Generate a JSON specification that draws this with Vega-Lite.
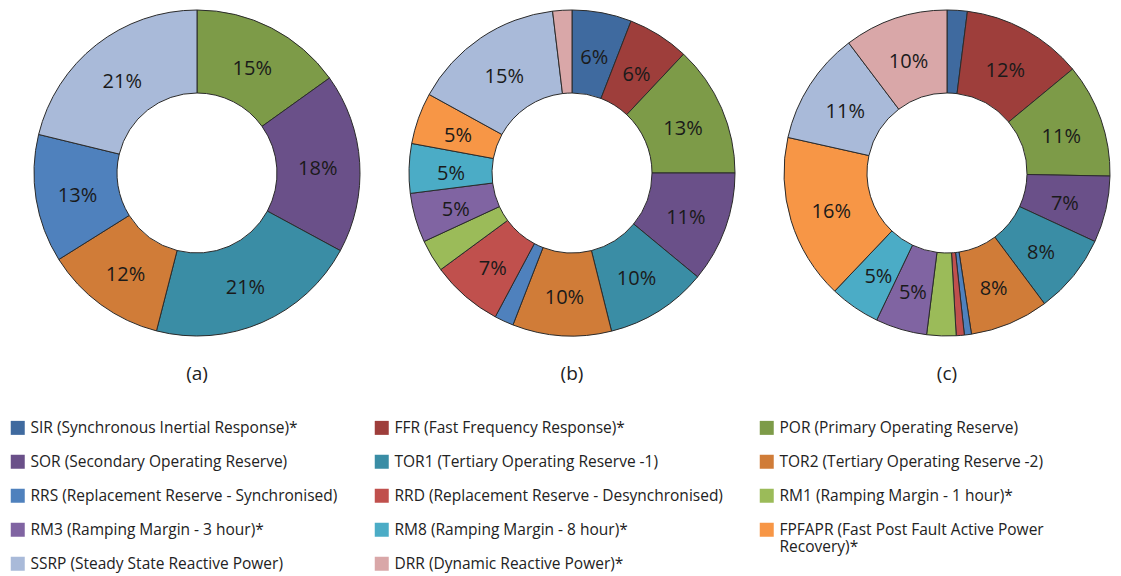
{
  "$schema": "https://vega.github.io/schema/vega-lite/v6.json",
  "padding": {"left": 10, "top": 3, "right": 0, "bottom": 0},
  "background": "white",
  "data": {"values": [
    {"chart": "(a)", "k": 3, "name": "POR (Primary Operating Reserve)", "v": 0.151},
    {"chart": "(a)", "k": 4, "name": "SOR (Secondary Operating Reserve)", "v": 0.178},
    {"chart": "(a)", "k": 5, "name": "TOR1 (Tertiary Operating Reserve -1)", "v": 0.211},
    {"chart": "(a)", "k": 6, "name": "TOR2 (Tertiary Operating Reserve -2)", "v": 0.121},
    {"chart": "(a)", "k": 7, "name": "RRS (Replacement Reserve - Synchronised)", "v": 0.127},
    {"chart": "(a)", "k": 13, "name": "SSRP (Steady State Reactive Power)", "v": 0.212},

    {"chart": "(b)", "k": 1, "name": "SIR (Synchronous Inertial Response)*", "v": 0.059},
    {"chart": "(b)", "k": 2, "name": "FFR (Fast Frequency Response)*", "v": 0.061},
    {"chart": "(b)", "k": 3, "name": "POR (Primary Operating Reserve)", "v": 0.130},
    {"chart": "(b)", "k": 4, "name": "SOR (Secondary Operating Reserve)", "v": 0.110},
    {"chart": "(b)", "k": 5, "name": "TOR1 (Tertiary Operating Reserve -1)", "v": 0.101},
    {"chart": "(b)", "k": 6, "name": "TOR2 (Tertiary Operating Reserve -2)", "v": 0.098},
    {"chart": "(b)", "k": 7, "name": "RRS (Replacement Reserve - Synchronised)", "v": 0.019},
    {"chart": "(b)", "k": 8, "name": "RRD (Replacement Reserve - Desynchronised)", "v": 0.071},
    {"chart": "(b)", "k": 9, "name": "RM1 (Ramping Margin - 1 hour)*", "v": 0.032},
    {"chart": "(b)", "k": 10, "name": "RM3 (Ramping Margin - 3 hour)*", "v": 0.049},
    {"chart": "(b)", "k": 11, "name": "RM8 (Ramping Margin - 8 hour)*", "v": 0.049},
    {"chart": "(b)", "k": 12, "name": "FPFAPR (Fast Post Fault Active Power Recovery)*", "v": 0.051},
    {"chart": "(b)", "k": 13, "name": "SSRP (Steady State Reactive Power)", "v": 0.151},
    {"chart": "(b)", "k": 14, "name": "DRR (Dynamic Reactive Power)*", "v": 0.019},

    {"chart": "(c)", "k": 1, "name": "SIR (Synchronous Inertial Response)*", "v": 0.020},
    {"chart": "(c)", "k": 2, "name": "FFR (Fast Frequency Response)*", "v": 0.120},
    {"chart": "(c)", "k": 3, "name": "POR (Primary Operating Reserve)", "v": 0.113},
    {"chart": "(c)", "k": 4, "name": "SOR (Secondary Operating Reserve)", "v": 0.066},
    {"chart": "(c)", "k": 5, "name": "TOR1 (Tertiary Operating Reserve -1)", "v": 0.079},
    {"chart": "(c)", "k": 6, "name": "TOR2 (Tertiary Operating Reserve -2)", "v": 0.078},
    {"chart": "(c)", "k": 7, "name": "RRS (Replacement Reserve - Synchronised)", "v": 0.007},
    {"chart": "(c)", "k": 8, "name": "RRD (Replacement Reserve - Desynchronised)", "v": 0.008},
    {"chart": "(c)", "k": 9, "name": "RM1 (Ramping Margin - 1 hour)*", "v": 0.029},
    {"chart": "(c)", "k": 10, "name": "RM3 (Ramping Margin - 3 hour)*", "v": 0.051},
    {"chart": "(c)", "k": 11, "name": "RM8 (Ramping Margin - 8 hour)*", "v": 0.050},
    {"chart": "(c)", "k": 12, "name": "FPFAPR (Fast Post Fault Active Power Recovery)*", "v": 0.164},
    {"chart": "(c)", "k": 13, "name": "SSRP (Steady State Reactive Power)", "v": 0.112},
    {"chart": "(c)", "k": 14, "name": "DRR (Dynamic Reactive Power)*", "v": 0.103}
  ]},
  "facet": {
    "column": {
      "field": "chart", "type": "nominal",
      "header": {"title": null, "labelOrient": "bottom", "labelFontSize": 19, "labelColor": "#222", "labelPadding": 22, "labelFont": "Open Sans"}
    }
  },
  "spacing": 1,
  "spec": {
    "width": 374,
    "height": 340,
    "layer": [
      {
        "mark": {"type": "arc", "radius": 163, "radius2": 80, "stroke": "#2b2b2b", "strokeWidth": 1},
        "encoding": {
          "theta": {"field": "v", "type": "quantitative", "stack": true},
          "order": {"field": "k", "type": "quantitative"},
          "color": {
            "field": "name", "type": "nominal",
            "scale": {
              "domain": [
                "SIR (Synchronous Inertial Response)*",
                "FFR (Fast Frequency Response)*",
                "POR (Primary Operating Reserve)",
                "SOR (Secondary Operating Reserve)",
                "TOR1 (Tertiary Operating Reserve -1)",
                "TOR2 (Tertiary Operating Reserve -2)",
                "RRS (Replacement Reserve - Synchronised)",
                "RRD (Replacement Reserve - Desynchronised)",
                "RM1 (Ramping Margin - 1 hour)*",
                "RM3 (Ramping Margin - 3 hour)*",
                "RM8 (Ramping Margin - 8 hour)*",
                "FPFAPR (Fast Post Fault Active Power Recovery)*",
                "SSRP (Steady State Reactive Power)",
                "DRR (Dynamic Reactive Power)*"
              ],
              "range": ["#3F6A9F", "#9E3E3B", "#7D9B48", "#6A5089", "#3A8DA5", "#D07C38", "#4F81BD", "#C0504D", "#9BBB59", "#8064A2", "#4BACC6", "#F79646", "#A9BAD9", "#D9A7A8"]
            },
            "legend": {
              "orient": "none", "legendX": 0, "legendY": 417,
              "direction": "horizontal",
              "title": null, "columns": 3,
              "symbolType": "square", "symbolSize": 196, "symbolStrokeWidth": 0,
              "labelFontSize": 15.5, "labelFont": "Open Sans", "labelColor": "#222",
              "rowPadding": 0, "columnPadding": 36, "labelLimit": 500, "labelOffset": 5,
              "labelExpr": "indexof(datum.label, 'FPFAPR') == 0 ? ['FPFAPR (Fast Post Fault Active Power', 'Recovery)*'] : [datum.label, ' ']"
            }
          }
        }
      },
      {
        "mark": {"type": "text", "radius": 121, "dy": 4, "fontSize": 20, "font": "Open Sans", "color": "#1a1a1a"},
        "encoding": {
          "theta": {"field": "v", "type": "quantitative", "stack": true},
          "order": {"field": "k", "type": "quantitative"},
          "text": {
            "condition": {"test": "datum.v < 0.045", "value": ""},
            "field": "v", "type": "quantitative", "format": ".0%"
          }
        }
      }
    ]
  },
  "config": {"view": {"stroke": null}, "font": "Open Sans"}
}
